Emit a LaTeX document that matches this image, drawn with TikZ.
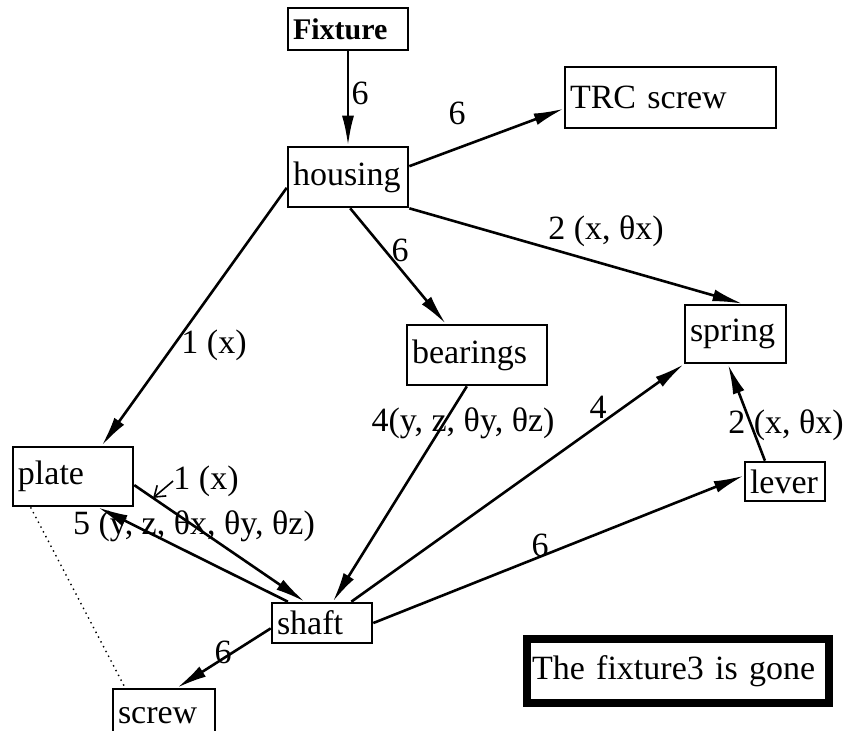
\documentclass[tikz,border=0pt]{standalone}
\usepackage{fontspec}
\setmainfont{Liberation Serif}
\usetikzlibrary{arrows.meta}

\begin{document}
\begin{tikzpicture}[x=0.5pt,y=-0.5pt,
    part/.style={draw, line width=1.3pt, align=left, inner xsep=2.5pt, inner ysep=0pt,
      font=\fontsize{17}{20}\selectfont},
    link/.style={line width=1.3pt, -{Latex[length=15pt,width=6pt]}},
    dof/.style={inner sep=0pt, font=\fontsize{17}{20}\selectfont}]
  \useasboundingbox (0,0) rectangle (844,730);
  % parts
  \node[part, text width=55pt, minimum height=21pt, font=\fontsize{15}{18}\selectfont\bfseries] (fixture) at (348,29) {Fixture};
  \node[part, text width=100.5pt, minimum height=30.5pt] (trc) at (670.5,97.5) {TRC screw};
  \node[part, text width=55pt, minimum height=30pt] (housing) at (348,177) {housing};
  \node[part, text width=65pt, minimum height=30pt] (bearings) at (477,355) {bearings};
  \node[part, text width=45.5pt, minimum height=29pt] (spring) at (735.5,334) {spring};
  \node[part, text width=55pt, minimum height=29.5pt] (plate) at (73,476.5) {plate};
  \node[part, text width=35pt, minimum height=19.5pt] (lever) at (785,481.5) {lever};
  \node[part, text width=45pt, minimum height=20pt] (shaft) at (322,623) {shaft};
  \node[part, text width=46pt, minimum height=27pt] (screw) at (164,716) {screw};
  \node[part, line width=4pt, text width=146pt, minimum height=32pt] (gone) at (678,671) {The fixture3 is gone};
  % constraints between parts
  \draw[link] (fixture) -- (housing);
  \draw[link] (housing.10) -- (trc.186);
  \draw[link] (housing.south east) -- (spring.77);
  \draw[link] (housing.274) -- (bearings.135);
  \draw[link] (housing.190) -- (plate.47);
  \draw[link] (bearings.252) -- (shaft.63);
  \draw[link] (shaft.36) -- (spring.south west);
  \draw[link] (lever.134) -- (spring.256);
  \draw[link] (shaft.east) -- (lever.172);
  \draw[link] (plate.352) -- coordinate[pos=0.11] (hit) (shaft.129);
  \draw[link] (shaft.148) -- (plate.309);
  \draw[link] (shaft.186) -- (screw.65);
  \draw[dotted, line width=0.7pt] (plate.216) -- (screw.144);
  % degrees of freedom
  \node[dof] (d1) at (360,93) {6};
  \node[dof] (d2) at (457,113) {6};
  \node[dof] (d3) at (606,231) {2 (x, θx)};
  \node[dof] (d4) at (400,250) {6};
  \node[dof] (d5) at (214,345) {1 (x)};
  \node[dof] (d6) at (463,423) {4(y, z, θy, θz)};
  \node[dof] (d7) at (598,407) {4};
  \node[dof] (d8) at (786,425) {2 (x, θx)};
  \node[dof] (d9) at (540,545) {6};
  \node[dof] (d10) at (206,481) {1 (x)};
  \node[dof] (d11) at (194,526) {5 (y, z, θx, θy, θz)};
  \node[dof] (d12) at (223,652) {6};
  \draw[line width=0.8pt, -{Straight Barb[length=5pt,width=7pt]}] (d10.west) -- (hit);
\end{tikzpicture}
\end{document}
